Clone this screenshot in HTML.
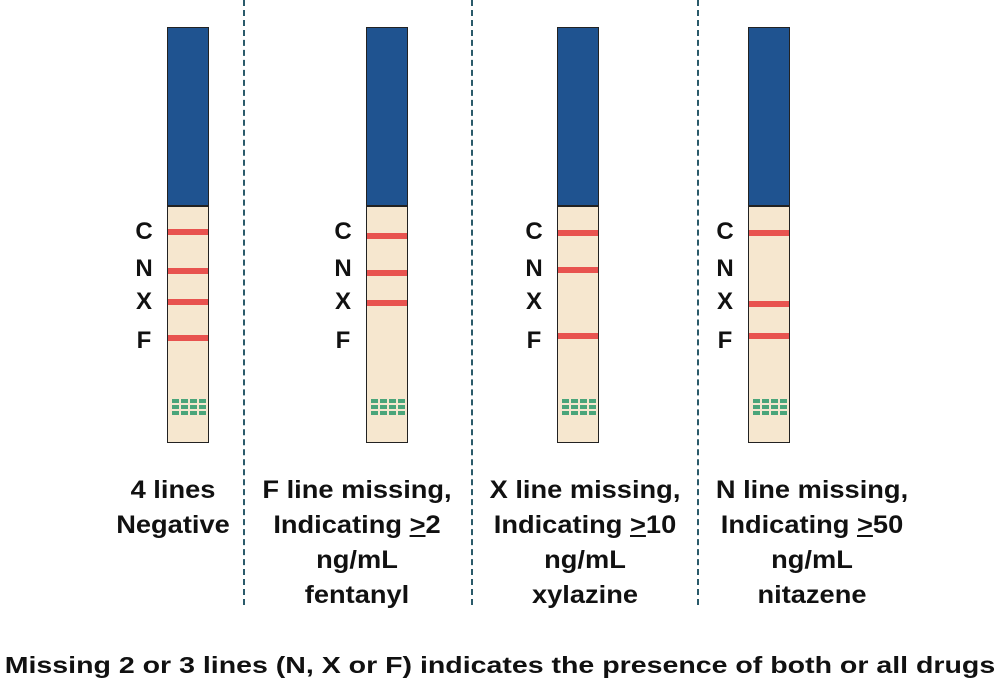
<!DOCTYPE html>
<html><head><style>
body{margin:0;width:1000px;height:697px;background:#fff;position:relative;overflow:hidden;font-family:"Liberation Sans",sans-serif;}
.strip{position:absolute;top:27px;width:40px;height:414px;border:1px solid #222;background:#f6e7cf;}
.blue{position:absolute;left:0;top:0;width:40px;height:177px;background:#1f5390;border-bottom:2px solid #222;}
.red{position:absolute;left:0;width:40px;height:6px;background:#e8534f;}
.grid{position:absolute;left:4px;top:371px;width:34px;height:17px;background:repeating-linear-gradient(90deg,#4aa57a 0 7px,transparent 7px 9px),transparent;-webkit-mask:repeating-linear-gradient(180deg,#000 0 4px,transparent 4px 6px);}
.lab{position:absolute;font-weight:bold;font-size:24px;color:#111;width:20px;text-align:center;}
.div{position:absolute;top:0;height:605px;width:0;border-left:2px dashed #2a5a6a;}
.txt{position:absolute;top:473px;width:240px;text-align:center;font-weight:bold;font-size:25px;line-height:35px;color:#111;transform:scaleX(1.09);}
.bot{position:absolute;top:652px;left:0;width:1000px;text-align:center;font-weight:bold;font-size:23px;color:#111;transform:scaleX(1.24);}
</style></head><body>
<div class="div" style="left:243px"></div>
<div class="div" style="left:471px"></div>
<div class="div" style="left:697px"></div>

<div class="strip" style="left:167px"><div class="blue"></div>
<div class="red" style="top:201px"></div><div class="red" style="top:240px"></div><div class="red" style="top:271px"></div><div class="red" style="top:307px"></div><div class="grid"></div></div>
<div class="lab" style="left:134px;top:218px">C</div><div class="lab" style="left:134px;top:255px">N</div><div class="lab" style="left:134px;top:288px">X</div><div class="lab" style="left:134px;top:327px">F</div>

<div class="strip" style="left:366px"><div class="blue"></div>
<div class="red" style="top:205px"></div><div class="red" style="top:242px"></div><div class="red" style="top:272px"></div><div class="grid"></div></div>
<div class="lab" style="left:333px;top:218px">C</div><div class="lab" style="left:333px;top:255px">N</div><div class="lab" style="left:333px;top:288px">X</div><div class="lab" style="left:333px;top:327px">F</div>

<div class="strip" style="left:557px"><div class="blue"></div>
<div class="red" style="top:202px"></div><div class="red" style="top:239px"></div><div class="red" style="top:305px"></div><div class="grid"></div></div>
<div class="lab" style="left:524px;top:218px">C</div><div class="lab" style="left:524px;top:255px">N</div><div class="lab" style="left:524px;top:288px">X</div><div class="lab" style="left:524px;top:327px">F</div>

<div class="strip" style="left:748px"><div class="blue"></div>
<div class="red" style="top:202px"></div><div class="red" style="top:273px"></div><div class="red" style="top:305px"></div><div class="grid"></div></div>
<div class="lab" style="left:715px;top:218px">C</div><div class="lab" style="left:715px;top:255px">N</div><div class="lab" style="left:715px;top:288px">X</div><div class="lab" style="left:715px;top:327px">F</div>

<div class="txt" style="left:53px">4 lines<br>Negative</div>
<div class="txt" style="left:237px">F line missing,<br>Indicating <u>&gt;</u>2<br>ng/mL<br>fentanyl</div>
<div class="txt" style="left:465px">X line missing,<br>Indicating <u>&gt;</u>10<br>ng/mL<br>xylazine</div>
<div class="txt" style="left:692px">N line missing,<br>Indicating <u>&gt;</u>50<br>ng/mL<br>nitazene</div>
<div class="bot">Missing 2 or 3 lines (N, X or F) indicates the presence of both or all drugs</div>
</body></html>
